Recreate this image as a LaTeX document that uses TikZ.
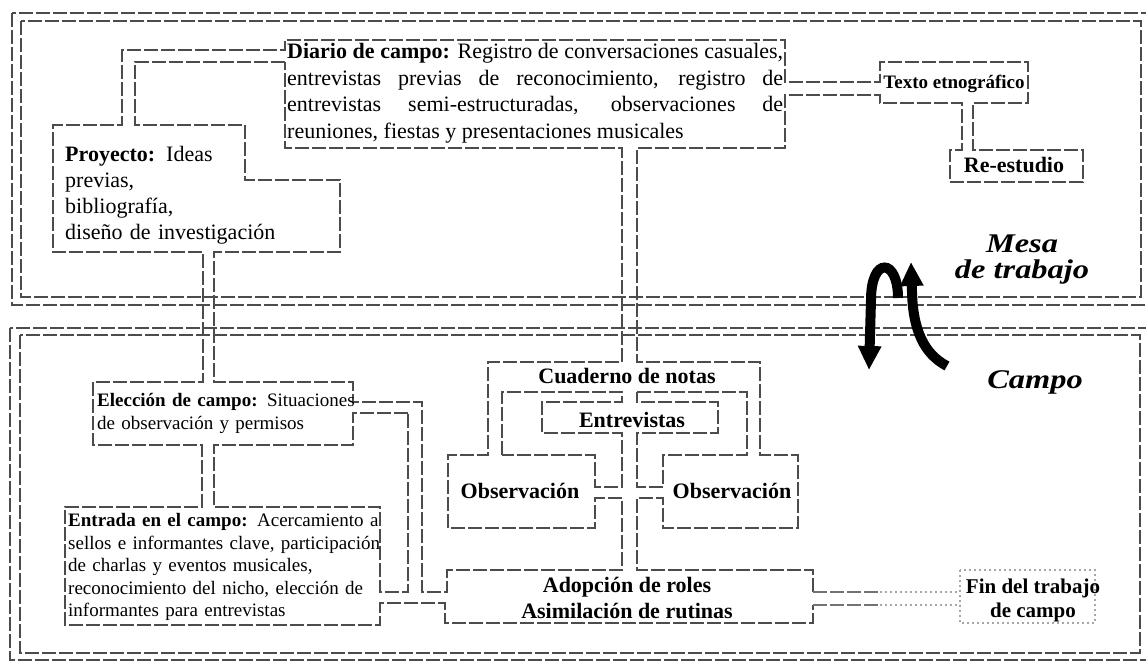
\documentclass[tikz,border=0pt]{standalone}
\usepackage{fontspec}
\setmainfont{Liberation Serif}
\usetikzlibrary{arrows.meta}
\hyphenpenalty=10000
\exhyphenpenalty=10000
\begin{document}
\begin{tikzpicture}[x=1pt,y=-1pt,
  wall/.style={draw=black!70, line width=2.6pt, dash pattern=on 14pt off 3pt, line join=miter},
  fade/.style={draw=black!35, line width=1.6pt, dash pattern=on 2pt off 3pt},
  title/.style={font=\fontsize{22}{26.5}\selectfont\bfseries, inner sep=0pt, anchor=base},
  small/.style={font=\fontsize{19}{22.5}\selectfont, inner sep=0pt, anchor=base west, align=left},
  zone/.style={font=\fontsize{27}{27}\selectfont\bfseries\itshape, inner sep=0pt, anchor=base},
  cycle arrow/.style={draw=black, line width=10pt, -{Triangle[width=22pt,length=24pt]}}
]
\useasboundingbox (0,0) rectangle (1146,663);
\fill[white] (0,0) rectangle (1146,663);

% double frames: desk (top) and field (bottom)
\draw[wall] (12,13) rectangle (1150,305);
\draw[wall] (21,21) rectangle (1141,297);
\draw[wall] (10,328) rectangle (1150,660);
\draw[wall] (20,335) rectangle (1140,653);

% outer contour of all boxes and their channels
\draw[wall] (813,592) -- (813,570) -- (637,570) -- (637,498) -- (663,498) -- (663,528)
  -- (798,528) -- (798,455) -- (760,455) -- (760,362) -- (637,362) -- (637,148)
  -- (785,148) -- (785,95) -- (880,95) -- (880,103) -- (962,103) -- (962,150)
  -- (950,150) -- (950,182) -- (1083,182) -- (1083,150) -- (973,150) -- (973,103)
  -- (1028,103) -- (1028,62) -- (880,62) -- (880,82) -- (785,82) -- (785,40)
  -- (285,40) -- (285,50) -- (122,50) -- (122,125) -- (53,125) -- (53,252)
  -- (203,252) -- (203,382) -- (93,382) -- (93,445) -- (202,445) -- (202,507)
  -- (65,507) -- (65,625) -- (380,625) -- (380,603) -- (445,603) -- (445,623)
  -- (813,623) -- (813,605);

% inner contour between project, diary, notebook and field steps
\draw[wall] (285,62) -- (135,62) -- (135,125) -- (245,125) -- (245,180) -- (340,180)
  -- (340,252) -- (214,252) -- (214,382) -- (353,382) -- (353,402) -- (422,402)
  -- (422,592) -- (447,592) -- (447,570) -- (622,570) -- (622,498) -- (595,498)
  -- (595,528) -- (448,528) -- (448,455) -- (488,455) -- (488,362) -- (622,362)
  -- (622,148) -- (285,148) -- cycle;

% hole between field choice, entry and the side channel
\draw[wall] (408,413) -- (353,413) -- (353,445) -- (214,445) -- (214,507) -- (380,507)
  -- (380,592) -- (408,592) -- cycle;

% holes inside the notebook
\draw[wall] (502,455) -- (502,392) -- (622,392) -- (622,402) -- (542,402) -- (542,433)
  -- (622,433) -- (622,487) -- (595,487) -- (595,455) -- cycle;
\draw[wall] (637,392) -- (747,392) -- (747,455) -- (663,455) -- (663,487) -- (637,487)
  -- (637,433) -- (718,433) -- (718,402) -- (637,402) -- cycle;

% fading channel and end box
\draw[wall, draw=black!55] (813,592) -- (880,592) (813,605) -- (880,605);
\draw[fade] (880,592) -- (960,592) (880,605) -- (960,605);
\draw[fade] (960,570) rectangle (1095,623);

% texts
\node[inner sep=0pt, anchor=base west, text width=496pt, align=justify,
      font=\fontsize{22}{26.5}\selectfont] (diario) at (287,59)
  {\textbf{Diario de campo:} Registro de conversaciones casuales,\linebreak
   entrevistas previas de reconocimiento, registro de\linebreak
   entrevistas semi-estructuradas, observaciones de\linebreak
   reuniones, fiestas y presentaciones musicales};
\node[inner sep=0pt, anchor=base west, text width=270pt, align=left,
      font=\fontsize{22}{26}\selectfont] (proyecto) at (65,162)
  {\textbf{Proyecto:} Ideas\\previas,\\bibliografía,\\diseño de investigación};
\node[title, font=\fontsize{19}{22}\selectfont\bfseries] (texto) at (954,89) {Texto etnográfico};
\node[title] (reestudio) at (1014,173) {Re-estudio};
\node[zone] (mesa) at (1022,252) {\scalebox{1.2}[1]{Mesa}};
\node[zone] (trabajo) at (1022,279) {\scalebox{1.2}[1]{de trabajo}};
\node[zone] (campo) at (1035,388) {\scalebox{1.2}[1]{Campo}};

\node[small, text width=258pt] (eleccion) at (97,406.5)
  {\textbf{Elección de campo:} Situaciones\\de observación y permisos};
\node[small, text width=312pt] (entrada) at (68,526.5)
  {\textbf{Entrada en el campo:} Acercamiento a\\sellos e informantes clave, participación\\de charlas y eventos musicales,\\reconocimiento del nicho, elección de\\informantes para entrevistas};

\node[title] (cuaderno) at (627,383) {Cuaderno de notas};
\node[title] (entrevistas) at (632,427) {Entrevistas};
\node[title] (obsA) at (520,498) {Observación};
\node[title] (obsB) at (732,498) {Observación};
\node[title] (adopcion) at (627,592) {Adopción de roles};
\node[title] (asimilacion) at (627,618) {Asimilación de rutinas};
\node[title, font=\fontsize{21}{24}\selectfont\bfseries] (fin) at (1033,593) {Fin del trabajo};
\node[title, font=\fontsize{21}{24}\selectfont\bfseries] (fin2) at (1033,617) {de campo};

% cycle between desk and field
\draw[cycle arrow] (898,298) .. controls (898,258) and (871,256) .. (871,300) -- (869,370);
\draw[cycle arrow] (947,366) .. controls (924,354) and (913,330) .. (912,292) -- (911,262);
\end{tikzpicture}
\end{document}
